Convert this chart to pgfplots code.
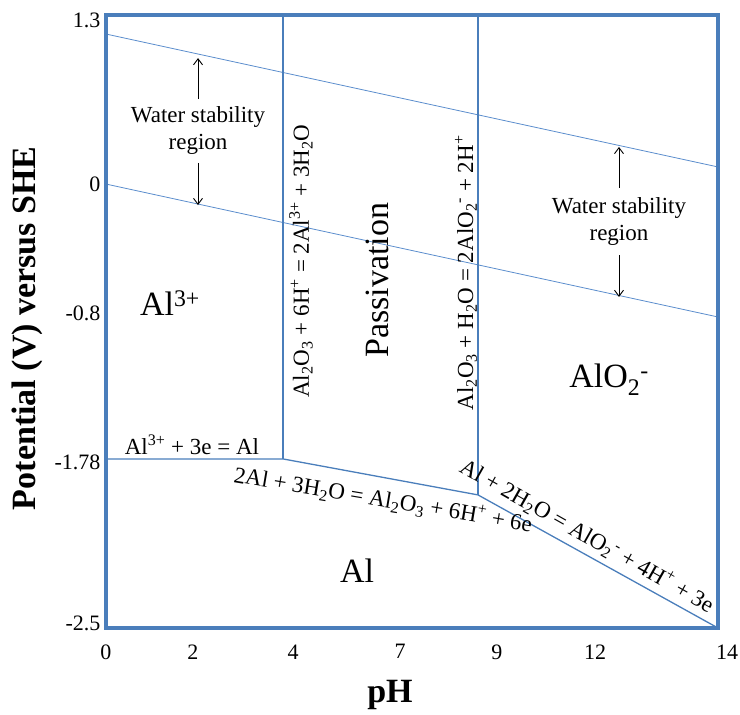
\documentclass[border=0pt]{standalone}
\usepackage{fontspec}
\setmainfont{Liberation Serif}
\usepackage{pgfplots}
\pgfplotsset{compat=1.18}
\usetikzlibrary{arrows.meta}

\definecolor{frameblue}{RGB}{74,126,187}
\definecolor{lineblue}{RGB}{91,141,205}

\newcommand{\eqfont}{\fontsize{23}{27}\selectfont}
\newcommand{\bigfont}{\fontsize{34}{40}\selectfont}

\begin{document}
\begin{tikzpicture}
  \useasboundingbox (0,0) rectangle (740pt,715pt);
  \begin{axis}[
      at={(106pt,87pt)}, anchor=south west,
      scale only axis,
      width=612pt, height=613pt,
      xmin=0, xmax=14,
      ymin=-2.5, ymax=1.3,
      axis line style={draw=frameblue, line width=1pt},
      major tick length=0pt,
      /pgf/number format/assume math mode=true,
      ticklabel style={font=\fontsize{22}{26}\selectfont},
      xtick={0,1.99,4.28,6.73,8.94,11.19},
      xticklabels={0,2,4,7,9,12},
      extra x ticks={14},
      extra x tick labels={14},
      extra x tick style={xticklabel style={xshift=9pt}},
      xticklabel style={yshift=-13pt},
      ytick={1.269,0.252,-0.547,-1.471,-2.469},
      yticklabels={1.3,0,-0.8,-1.78,-2.5},
      yticklabel style={xshift=-2pt},
      xlabel={\textbf{pH}},
      xlabel style={font=\fontsize{34}{40}\selectfont, at={(axis description cs:0.464,-0.122)}, anchor=base},
      ylabel={\textbf{Potential (V) versus SHE}},
      ylabel style={font=\fontsize{34}{40}\selectfont, at={(axis description cs:-0.129,0.489)}, anchor=center, rotate=0},
      clip=false,
    ]
    % water stability lines
    \addplot[lineblue, line width=0.8pt] coordinates {(0,1.182) (14,0.358)};
    \addplot[lineblue, line width=0.8pt] coordinates {(0,0.252) (14,-0.572)};
    % phase boundaries
    \addplot[frameblue, line width=1.3pt] coordinates {(0,-1.452) (4.05,-1.452) (8.51,-1.675) (14,-2.5)};
    \addplot[frameblue, line width=1.3pt] coordinates {(4.05,1.3) (4.05,-1.452)};
    \addplot[frameblue, line width=1.3pt] coordinates {(8.51,1.3) (8.51,-1.675)};
    % arrows
    \addplot[black, line width=0.9pt, -{Straight Barb[length=6pt,width=9pt]}] coordinates {(2.105,0.779) (2.105,1.033)};
    \addplot[black, line width=0.9pt, -{Straight Barb[length=6pt,width=9pt]}] coordinates {(2.105,0.383) (2.105,0.122)};
    \addplot[black, line width=0.9pt, -{Straight Barb[length=6pt,width=9pt]}] coordinates {(11.735,0.228) (11.735,0.482)};
    \addplot[black, line width=0.9pt, -{Straight Barb[length=6pt,width=9pt]}] coordinates {(11.735,-0.188) (11.735,-0.448)};

    % frame
    \draw[frameblue, line width=3.4pt, line join=miter] (rel axis cs:0,0) rectangle (rel axis cs:1,1);

    \node[align=center, font=\eqfont] at (axis cs:2.105,0.581) {Water stability\\region};
    \node[align=center, font=\eqfont] at (axis cs:11.735,0.017) {Water stability\\region};

    \node[anchor=base, font=\bigfont] at (axis cs:1.464,-0.56) {Al\textsuperscript{3+}};
    \node[rotate=90, font=\bigfont] at (axis cs:6.199,-0.343) {Passivation};
    \node[anchor=base, font=\bigfont] at (axis cs:11.507,-1.012) {AlO\textsubscript{2}\textsuperscript{-}};
    \node[anchor=base, font=\bigfont] at (axis cs:5.742,-2.221) {Al};

    \node[anchor=base, font=\eqfont] at (axis cs:1.967,-1.427) {Al\textsuperscript{3+} + 3e = Al};
    \node[rotate=90, font=\eqfont] at (axis cs:4.461,-0.225)
      {Al\textsubscript{2}O\textsubscript{3} + 6H\textsuperscript{+} = 2Al\textsuperscript{3+} + 3H\textsubscript{2}O};
    \node[rotate=90, font=\eqfont] at (axis cs:8.235,-0.299)
      {Al\textsubscript{2}O\textsubscript{3} + H\textsubscript{2}O = 2AlO\textsubscript{2}\textsuperscript{-} + 2H\textsuperscript{+}};
    \node[rotate=-9.5, font=\eqfont] at (axis cs:6.337,-1.706)
      {2Al + 3H\textsubscript{2}O = Al\textsubscript{2}O\textsubscript{3} + 6H\textsuperscript{+} + 6e};
    \node[rotate=-29.5, font=\eqfont] at (axis cs:11.003,-1.93)
      {Al + 2H\textsubscript{2}O = AlO\textsubscript{2}\textsuperscript{-} + 4H\textsuperscript{+} + 3e};
  \end{axis}
\end{tikzpicture}
\end{document}
